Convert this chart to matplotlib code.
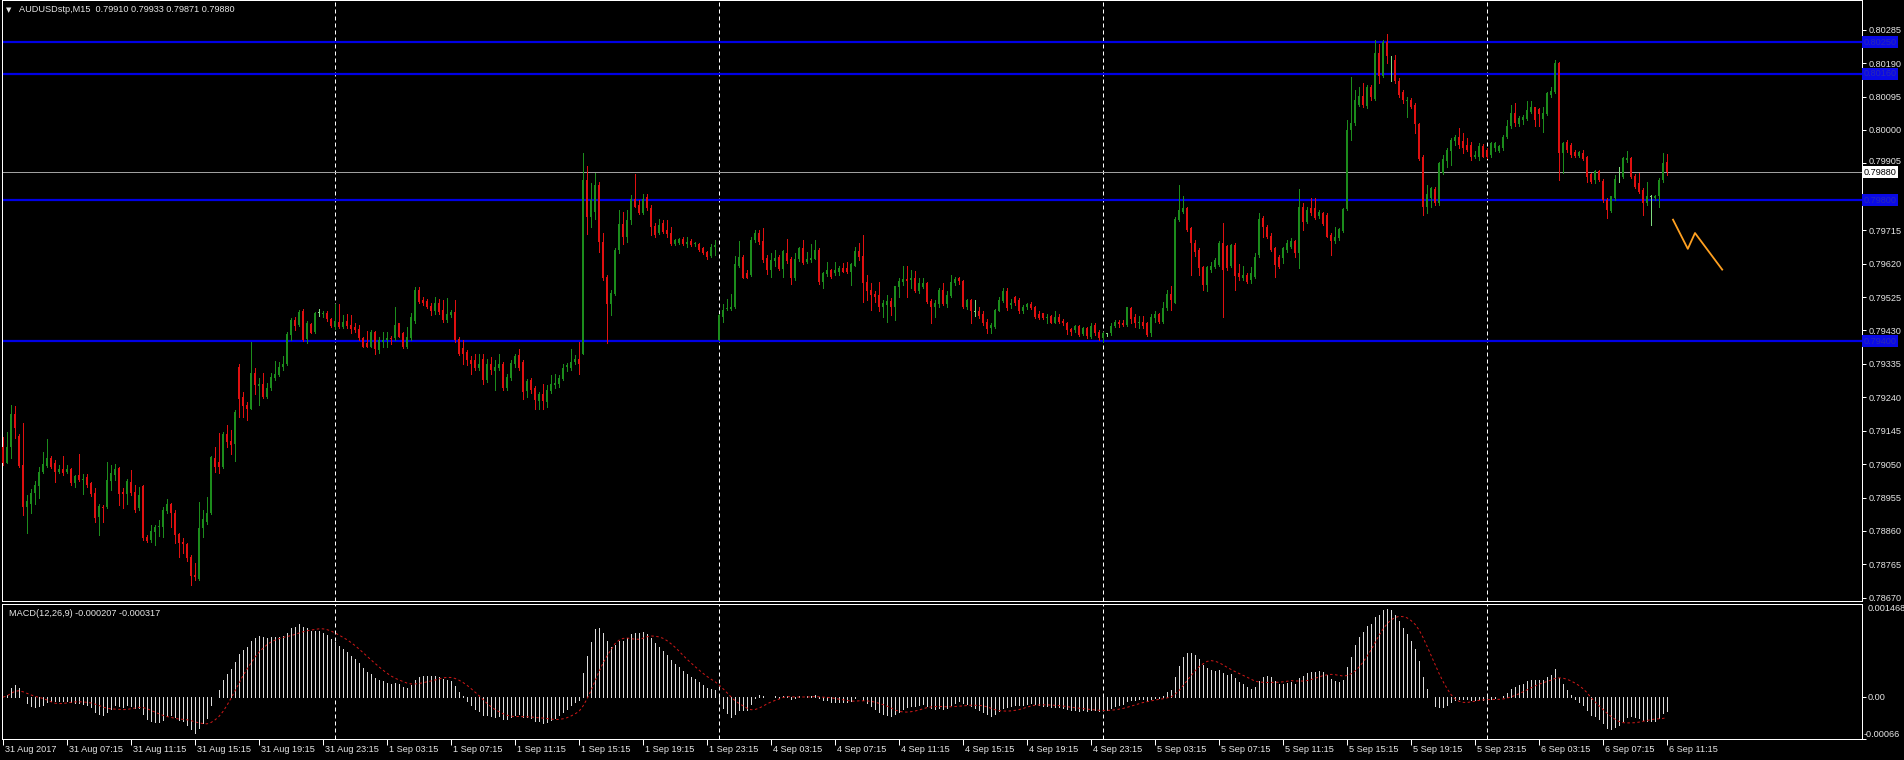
# ============================================================
# AUDUSDstp M15 candlestick chart with MACD(12,26,9) subwindow
# MT4 style: black background, green/red candles, blue levels
# ============================================================

import numpy as np
import pandas as pd
import matplotlib
matplotlib.use("Agg")
import matplotlib.pyplot as plt
import matplotlib.transforms as mtransforms

# ============================================================
# Data: M15 bars from 31 Aug 03:15 to 6 Sep 11:15 (prices in points, 1e-5)
# ============================================================
open_pts = [
    79099, 79054, 79098, 79192, 79130, 79047, 78927, 78938, 78969, 78988,
    79028, 79045, 79068, 79052, 79028, 79035, 79027, 79036, 78995, 79019,
    79005, 79014, 78995, 78967, 78900, 78929, 78927, 79003, 79019, 79038,
    78971, 78965, 78998, 78971, 78924, 78988, 78844, 78834, 78858, 78870,
    78872, 78917, 78938, 78912, 78850, 78829, 78823, 78787, 78734, 78722,
    78867, 78886, 78910, 79066, 79057, 79043, 79137, 79117, 79106, 79327,
    79240, 79218, 79208, 79308, 79272, 79277, 79242, 79265, 79294, 79303,
    79325, 79335, 79417, 79460, 79445, 79486, 79405, 79447, 79426, 79479,
    79477, 79481, 79462, 79441, 79455, 79439, 79458, 79445, 79441, 79433,
    79408, 79395, 79384, 79427, 79374, 79398, 79403, 79408, 79408, 79450,
    79422, 79382, 79408, 79458, 79546, 79516, 79514, 79500, 79486, 79507,
    79488, 79459, 79473, 79483, 79407, 79380, 79369, 79345, 79345, 79322,
    79350, 79288, 79336, 79315, 79322, 79336, 79265, 79296, 79334, 79360,
    79341, 79258, 79288, 79265, 79230, 79249, 79227, 79258, 79274, 79277,
    79293, 79326, 79324, 79341, 79350, 79364, 79857, 79753, 79766, 79843,
    79682, 79582, 79505, 79535, 79658, 79732, 79696, 79743, 79805, 79786,
    79764, 79808, 79779, 79726, 79706, 79736, 79717, 79706, 79677, 79680,
    79691, 79675, 79685, 79675, 79677, 79663, 79653, 79641, 79666, 79404,
    79469, 79490, 79490, 79497, 79613, 79639, 79592, 79587, 79687, 79706,
    79685, 79637, 79601, 79628, 79639, 79606, 79651, 79632, 79580, 79632,
    79663, 79625, 79630, 79634, 79658, 79568, 79590, 79601, 79593, 79597,
    79607, 79607, 79597, 79614, 79657, 79642, 79569, 79545, 79534, 79531,
    79498, 79503, 79515, 79498, 79553, 79569, 79576, 79574, 79578, 79541,
    79553, 79566, 79515, 79496, 79505, 79545, 79505, 79528, 79566, 79578,
    79572, 79496, 79517, 79483, 79486, 79477, 79455, 79436, 79439, 79486,
    79515, 79541, 79503, 79524, 79517, 79484, 79496, 79505, 79498, 79477,
    79479, 79465, 79471, 79452, 79469, 79458, 79452, 79433, 79430, 79443,
    79420, 79436, 79411, 79446, 79427, 79408, 79421, 79422, 79443, 79455,
    79452, 79446, 79493, 79468, 79451, 79455, 79450, 79422, 79465, 79477,
    79455, 79493, 79534, 79509, 79744, 79768, 79778, 79721, 79680, 79659,
    79610, 79560, 79602, 79610, 79616, 79678, 79669, 79612, 79673, 79593,
    79578, 79588, 79574, 79583, 79645, 79749, 79725, 79699, 79664, 79638,
    79635, 79659, 79668, 79683, 79649, 79782, 79739, 79777, 79777, 79754,
    79765, 79758, 79702, 79683, 79692, 79714, 79775, 80000, 80019, 80071,
    80097, 80068, 80123, 80087, 80220, 80154, 80249, 80192, 80199, 80140,
    80109, 80081, 80085, 80071, 80017, 79924, 79780, 79806, 79831, 79792,
    79877, 79913, 79941, 79970, 79981, 79970, 79958, 79958, 79922, 79922,
    79955, 79943, 79929, 79948, 79939, 79948, 79979, 80010, 80049, 80017,
    80027, 80030, 80052, 80065, 80059, 80030, 80046, 80100, 80109, 80190,
    79934, 79967, 79958, 79936, 79926, 79934, 79922, 79875, 79858, 79882,
    79856, 79801, 79771, 79806, 79865, 79867, 79915, 79920, 79869, 79850,
    79830, 79792, 79810, 79806, 79811, 79858, 79910,
]
high_pts = [
    79128, 79142, 79218, 79215, 79137, 79166, 78962, 78978, 79003, 79043,
    79085, 79120, 79073, 79062, 79047, 79073, 79047, 79038, 79019, 79078,
    79021, 79021, 79000, 78981, 78938, 78934, 79057, 79047, 79050, 79043,
    78981, 79009, 79033, 78990, 78986, 78990, 78848, 78877, 78877, 78891,
    78929, 78950, 78940, 78919, 78855, 78839, 78826, 78791, 78768, 78943,
    78919, 78957, 79073, 79099, 79139, 79142, 79161, 79147, 79204, 79335,
    79256, 79227, 79398, 79322, 79294, 79308, 79280, 79310, 79344, 79341,
    79357, 79427, 79464, 79469, 79488, 79490, 79458, 79450, 79483, 79490,
    79486, 79486, 79464, 79505, 79505, 79474, 79477, 79474, 79450, 79445,
    79412, 79429, 79431, 79429, 79412, 79427, 79427, 79414, 79498, 79452,
    79427, 79441, 79479, 79554, 79554, 79526, 79518, 79507, 79525, 79518,
    79516, 79521, 79488, 79516, 79412, 79404, 79374, 79357, 79364, 79364,
    79364, 79350, 79355, 79345, 79364, 79341, 79307, 79345, 79364, 79376,
    79345, 79293, 79296, 79271, 79255, 79277, 79274, 79303, 79307, 79303,
    79336, 79338, 79376, 79360, 79397, 79935, 79897, 79848, 79878, 79852,
    79706, 79587, 79544, 79663, 79772, 79767, 79772, 79815, 79876, 79800,
    79819, 79819, 79786, 79736, 79748, 79743, 79745, 79723, 79691, 79694,
    79696, 79696, 79689, 79682, 79679, 79666, 79656, 79675, 79687, 79478,
    79506, 79518, 79535, 79641, 79685, 79644, 79601, 79696, 79715, 79717,
    79720, 79644, 79649, 79658, 79644, 79660, 79691, 79639, 79649, 79668,
    79687, 79653, 79675, 79687, 79663, 79597, 79625, 79606, 79626, 79614,
    79621, 79626, 79621, 79667, 79678, 79702, 79588, 79564, 79541, 79569,
    79517, 79531, 79522, 79557, 79578, 79612, 79614, 79602, 79600, 79578,
    79578, 79569, 79519, 79517, 79550, 79566, 79541, 79588, 79583, 79581,
    79574, 79519, 79519, 79517, 79498, 79484, 79462, 79450, 79490, 79524,
    79550, 79550, 79519, 79528, 79522, 79503, 79507, 79512, 79500, 79484,
    79481, 79477, 79474, 79484, 79477, 79462, 79455, 79436, 79446, 79446,
    79439, 79441, 79450, 79450, 79432, 79427, 79424, 79452, 79460, 79460,
    79460, 79498, 79498, 79477, 79471, 79471, 79455, 79477, 79484, 79481,
    79512, 79545, 79557, 79752, 79844, 79811, 79782, 79725, 79687, 79664,
    79614, 79614, 79626, 79635, 79683, 79735, 79673, 79676, 79678, 79619,
    79612, 79593, 79611, 79649, 79763, 79756, 79730, 79706, 79668, 79645,
    79668, 79687, 79692, 79687, 79831, 79792, 79782, 79806, 79806, 79773,
    79768, 79763, 79706, 79725, 79721, 79777, 80029, 80152, 80114, 80123,
    80133, 80128, 80128, 80256, 80245, 80256, 80273, 80209, 80213, 80147,
    80114, 80095, 80090, 80076, 80021, 79929, 79844, 79839, 79839, 79910,
    79929, 79948, 79976, 79986, 80005, 79991, 79976, 79967, 79939, 79962,
    79960, 79948, 79967, 79967, 79958, 79986, 80029, 80071, 80076, 80040,
    80043, 80081, 80081, 80065, 80062, 80065, 80109, 80123, 80199, 80192,
    79967, 79972, 79964, 79943, 79939, 79943, 79926, 79879, 79885, 79885,
    79860, 79806, 79812, 79872, 79896, 79924, 79939, 79924, 79875, 79879,
    79834, 79853, 79815, 79815, 79863, 79934, 79933,
]
low_pts = [
    79047, 79052, 79066, 79123, 79043, 78905, 78855, 78912, 78938, 78953,
    79024, 79043, 79038, 79000, 79024, 79019, 79024, 78992, 78986, 79003,
    78965, 78986, 78960, 78886, 78848, 78886, 78924, 78976, 79005, 78934,
    78924, 78938, 78962, 78915, 78919, 78834, 78829, 78829, 78820, 78845,
    78844, 78910, 78872, 78825, 78787, 78796, 78775, 78706, 78720, 78720,
    78844, 78881, 78908, 79028, 79025, 79038, 79099, 79078, 79060, 79185,
    79185, 79175, 79206, 79249, 79218, 79237, 79237, 79261, 79289, 79300,
    79318, 79332, 79403, 79431, 79443, 79401, 79393, 79422, 79422, 79471,
    79469, 79458, 79439, 79433, 79436, 79436, 79436, 79424, 79427, 79403,
    79382, 79382, 79382, 79363, 79365, 79382, 79382, 79391, 79403, 79410,
    79379, 79379, 79403, 79450, 79507, 79502, 79495, 79473, 79478, 79478,
    79454, 79454, 79469, 79397, 79359, 79334, 79331, 79307, 79317, 79317,
    79279, 79284, 79307, 79260, 79317, 79260, 79260, 79288, 79326, 79317,
    79236, 79241, 79251, 79208, 79208, 79208, 79213, 79251, 79265, 79270,
    79288, 79315, 79317, 79334, 79307, 79364, 79704, 79725, 79748, 79653,
    79573, 79395, 79473, 79530, 79649, 79677, 79682, 79734, 79781, 79761,
    79761, 79772, 79701, 79696, 79704, 79706, 79696, 79672, 79672, 79677,
    79672, 79668, 79670, 79670, 79656, 79647, 79632, 79639, 79644, 79402,
    79454, 79488, 79488, 79495, 79611, 79578, 79578, 79584, 79682, 79677,
    79625, 79590, 79582, 79613, 79601, 79582, 79622, 79563, 79573, 79628,
    79618, 79622, 79625, 79632, 79563, 79552, 79584, 79578, 79588, 79588,
    79595, 79593, 79560, 79612, 79631, 79512, 79517, 79488, 79512, 79484,
    79469, 79455, 79474, 79460, 79526, 79560, 79526, 79550, 79538, 79536,
    79550, 79509, 79450, 79469, 79498, 79503, 79498, 79524, 79560, 79562,
    79493, 79490, 79452, 79471, 79465, 79446, 79422, 79422, 79436, 79484,
    79512, 79488, 79493, 79503, 79481, 79481, 79492, 79490, 79465, 79462,
    79462, 79450, 79450, 79450, 79450, 79446, 79420, 79417, 79427, 79413,
    79417, 79408, 79408, 79417, 79403, 79398, 79414, 79417, 79439, 79441,
    79443, 79443, 79450, 79441, 79436, 79436, 79413, 79413, 79455, 79450,
    79450, 79488, 79488, 79507, 79740, 79763, 79714, 79588, 79642, 79588,
    79545, 79543, 79597, 79607, 79614, 79469, 79602, 79610, 79545, 79574,
    79574, 79564, 79566, 79578, 79640, 79697, 79692, 79657, 79583, 79607,
    79621, 79654, 79664, 79640, 79607, 79716, 79735, 79758, 79746, 79749,
    79730, 79695, 79645, 79680, 79687, 79711, 79773, 79972, 80014, 80067,
    80065, 80062, 80085, 80085, 80133, 80152, 80190, 80138, 80133, 80093,
    80076, 80038, 80062, 79991, 79915, 79758, 79763, 79782, 79787, 79787,
    79875, 79896, 79901, 79958, 79948, 79934, 79939, 79915, 79920, 79915,
    79922, 79920, 79924, 79941, 79936, 79943, 79976, 80005, 80010, 80012,
    80017, 80027, 80048, 80012, 80010, 79995, 80043, 80095, 80106, 79858,
    79877, 79936, 79924, 79924, 79922, 79915, 79853, 79850, 79850, 79856,
    79796, 79749, 79768, 79801, 79853, 79863, 79910, 79863, 79834, 79820,
    79758, 79787, 79730, 79801, 79782, 79853, 79871,
]
close_pts = [
    79052, 79099, 79192, 79152, 79044, 78929, 78946, 78969, 78990, 79028,
    79050, 79068, 79043, 79028, 79036, 79026, 79037, 78995, 79016, 79005,
    79009, 78990, 78965, 78898, 78931, 78924, 79005, 79024, 79036, 78965,
    78965, 79003, 78967, 78919, 78962, 78841, 78832, 78861, 78872, 78874,
    78919, 78938, 78910, 78848, 78826, 78823, 78782, 78732, 78728, 78867,
    78893, 78910, 79069, 79043, 79041, 79137, 79114, 79104, 79199, 79234,
    79215, 79208, 79308, 79275, 79278, 79240, 79267, 79297, 79306, 79327,
    79335, 79420, 79460, 79443, 79483, 79403, 79450, 79424, 79479, 79479,
    79480, 79462, 79443, 79458, 79439, 79455, 79443, 79433, 79431, 79408,
    79384, 79384, 79427, 79376, 79403, 79403, 79408, 79405, 79445, 79412,
    79382, 79412, 79467, 79544, 79511, 79508, 79497, 79486, 79507, 79483,
    79459, 79476, 79483, 79402, 79364, 79364, 79345, 79336, 79322, 79336,
    79288, 79336, 79317, 79326, 79336, 79265, 79298, 79338, 79357, 79322,
    79255, 79287, 79260, 79232, 79249, 79230, 79262, 79277, 79281, 79296,
    79324, 79331, 79341, 79350, 79336, 79857, 79753, 79800, 79843, 79682,
    79578, 79505, 79537, 79658, 79732, 79696, 79745, 79805, 79781, 79764,
    79805, 79777, 79725, 79701, 79729, 79710, 79704, 79675, 79688, 79690,
    79675, 79682, 79672, 79679, 79658, 79649, 79639, 79666, 79672, 79473,
    79489, 79492, 79497, 79618, 79639, 79580, 79580, 79688, 79707, 79682,
    79630, 79601, 79630, 79637, 79606, 79656, 79628, 79580, 79632, 79663,
    79622, 79634, 79637, 79658, 79568, 79592, 79603, 79582, 79602, 79607,
    79597, 79597, 79619, 79657, 79640, 79564, 79543, 79531, 79526, 79498,
    79507, 79515, 79498, 79555, 79572, 79576, 79572, 79578, 79541, 79564,
    79564, 79512, 79496, 79509, 79545, 79505, 79531, 79569, 79576, 79572,
    79496, 79517, 79484, 79483, 79471, 79450, 79433, 79446, 79488, 79517,
    79541, 79493, 79509, 79507, 79484, 79498, 79505, 79493, 79469, 79465,
    79465, 79469, 79452, 79469, 79455, 79450, 79430, 79427, 79443, 79417,
    79436, 79413, 79443, 79422, 79408, 79422, 79421, 79443, 79455, 79449,
    79446, 79496, 79462, 79451, 79455, 79443, 79417, 79469, 79477, 79455,
    79493, 79534, 79517, 79746, 79773, 79778, 79716, 79678, 79654, 79607,
    79560, 79610, 79614, 79631, 79678, 79602, 79607, 79673, 79585, 79581,
    79588, 79569, 79592, 79640, 79746, 79725, 79697, 79659, 79616, 79611,
    79664, 79680, 79685, 79649, 79782, 79739, 79773, 79765, 79749, 79768,
    79733, 79697, 79683, 79697, 79718, 79775, 80000, 80019, 80085, 80097,
    80071, 80122, 80093, 80220, 80154, 80249, 80209, 80192, 80138, 80100,
    80084, 80085, 80065, 80017, 79917, 79782, 79818, 79834, 79792, 79905,
    79917, 79943, 79972, 79981, 79958, 79948, 79943, 79922, 79929, 79953,
    79924, 79924, 79962, 79962, 79953, 79981, 80012, 80049, 80019, 80033,
    80036, 80057, 80065, 80029, 80046, 80049, 80104, 80112, 80190, 79934,
    79964, 79943, 79929, 79926, 79936, 79917, 79867, 79853, 79882, 79858,
    79801, 79773, 79811, 79860, 79865, 79920, 79920, 79867, 79839, 79825,
    79792, 79811, 79810, 79812, 79858, 79907, 79880,
]

# horizontal levels drawn on the chart
blue_levels = [0.80250, 0.80160, 0.79800, 0.79400]
bid_level = 0.79880

# period separators (bar index of each day start) and time labels every 16 bars
day_start_bars = [83, 179, 275, 371]
time_labels = [
    "31 Aug 2017", "31 Aug 07:15", "31 Aug 11:15", "31 Aug 15:15", "31 Aug 19:15",
    "31 Aug 23:15", "1 Sep 03:15", "1 Sep 07:15", "1 Sep 11:15", "1 Sep 15:15",
    "1 Sep 19:15", "1 Sep 23:15", "4 Sep 03:15", "4 Sep 07:15", "4 Sep 11:15",
    "4 Sep 15:15", "4 Sep 19:15", "4 Sep 23:15", "5 Sep 03:15", "5 Sep 07:15",
    "5 Sep 11:15", "5 Sep 15:15", "5 Sep 19:15", "5 Sep 23:15", "6 Sep 03:15",
    "6 Sep 07:15", "6 Sep 11:15",
]

# orange zigzag forecast drawn to the right of the last bar
zz_bar = [417.5, 421.2, 423.0, 429.8]
zz_price = [0.79745, 0.79662, 0.79707, 0.79603]

# ============================================================
# Style
# ============================================================
W, H = 1904, 760
plt.rcParams['font.family'] = ['Liberation Sans', 'DejaVu Sans']
FS = 6.6
TXT = '#e6e6e6'
GREEN = '#1c8c1c'
RED = '#e01010'
DOJI = '#7fdc7f'
PX = 0.72  # one pixel in points at dpi 100

o = np.array(open_pts) / 1e5
h = np.array(high_pts) / 1e5
l = np.array(low_pts) / 1e5
c = np.array(close_pts) / 1e5
assert len(o) == len(h) == len(l) == len(c) == 417
x = np.arange(len(c))

fig = plt.figure(figsize=(W / 100, H / 100), dpi=100, facecolor='black')


def px_axes(left, top, right, bottom):
    a = fig.add_axes([left / W, 1 - bottom / H, (right - left) / W, (bottom - top) / H])
    a.set_facecolor('black')
    for s in a.spines.values():
        s.set_color('white')
        s.set_linewidth(PX)
    a.set_xlim(-0.25, 464.75)
    return a


ax = px_axes(2, 0, 1862, 601)
axm = px_axes(2, 604, 1862, 739)

# ============================================================
# Price panel
# ============================================================
ax.set_ylim(0.786608, 0.803695)
cols = np.where(c > o, GREEN, np.where(c < o, RED, DOJI))
ax.vlines(x, l, h, colors=cols, lw=PX, antialiased=False, zorder=3)
body_bot = np.minimum(o, c)
body_h = np.maximum(np.abs(c - o), 0.000025)
ax.bar(x, body_h, width=0.72, bottom=body_bot, color=cols, linewidth=0,
       antialiased=False, zorder=4)

for lv in blue_levels:
    ax.axhline(lv, color='#0000e6', lw=1.6, zorder=2)
    ax.text(1.0009, lv, f"{lv:.5f}", transform=ax.get_yaxis_transform(),
            ha='left', va='center', fontsize=FS, color='#2a2ab4', clip_on=False,
            bbox=dict(boxstyle='square,pad=0.15', fc='#0a0ae6', ec='none'))
ax.axhline(bid_level, color='#a0a0a0', lw=PX, zorder=2)
ax.text(1.0009, bid_level, f"{bid_level:.5f}", transform=ax.get_yaxis_transform(),
        ha='left', va='center', fontsize=FS, color='black', clip_on=False,
        bbox=dict(boxstyle='square,pad=0.15', fc='white', ec='none'))

ax.plot(zz_bar, zz_price, color='#ffa020', lw=1.3, zorder=5)

price_ticks = np.round(np.arange(0.78670, 0.80286, 0.00095), 5)
# the 0.79810 label sits under the 0.79800 level box, so it is not shown
price_labels = ["" if abs(v - 0.79810) < 1e-6 else f"{v:.5f}" for v in price_ticks]
ax.yaxis.tick_right()
ax.set_yticks(price_ticks)
ax.set_yticklabels(price_labels)
ax.tick_params(axis='y', colors='white', labelcolor=TXT, length=3, width=PX,
               pad=1.5, labelsize=FS)
# nudge the tick label sitting right above the bid box
nudge = mtransforms.ScaledTranslation(0, 2.5 / 100, fig.dpi_scale_trans)
for v, lab in zip(price_ticks, ax.get_yticklabels()):
    if abs(v - 0.79905) < 1e-6:
        lab.set_transform(lab.get_transform() + nudge)
ax.set_xticks([])

for b in day_start_bars:
    ax.axvline(b, color='white', lw=PX, ls=(0, (4, 3)), zorder=1)
    axm.axvline(b, color='white', lw=PX, ls=(0, (4, 3)), zorder=1)

fig.text(9 / W, 1 - 10 / H, "\u25BC", color=TXT, fontsize=5,
         family=['DejaVu Sans'], ha='center', va='center')
fig.text(19 / W, 1 - 10 / H,
         "AUDUSDstp,M15  0.79910 0.79933 0.79871 0.79880",
         color=TXT, fontsize=FS, ha='left', va='center')

# ============================================================
# MACD(12,26,9) panel: EMA12 - EMA26 of close, SMA9 signal
# ============================================================
close_s = pd.Series(c)
macd = close_s.ewm(span=12, adjust=False).mean() - close_s.ewm(span=26, adjust=False).mean()
signal = macd.rolling(9, min_periods=1).mean()

axm.set_ylim(-0.00066, 0.001468)
axm.vlines(x, 0, macd.values, colors='#dcdcdc', lw=PX, antialiased=False, zorder=3)
axm.plot(x, signal.values, color='#d01818', lw=PX, ls=(0, (2.5, 2.5)), zorder=4)

axm.yaxis.tick_right()
axm.set_yticks([0.0, -0.00066])
axm.set_yticklabels(["", ""])
axm.tick_params(axis='y', colors='white', length=3, width=PX)
axm.text(1.003, 0.0, "0.00", transform=axm.get_yaxis_transform(),
         ha='left', va='center', fontsize=FS, color=TXT)
axm.text(1.003, 0.001468, "0.001468", transform=axm.get_yaxis_transform(),
         ha='left', va='top', fontsize=FS, color=TXT)
axm.text(1.001, -0.00066, "-0.00066", transform=axm.get_yaxis_transform(),
         ha='left', va='bottom', fontsize=FS, color=TXT)
axm.text(7 / 1860, 1 - 9 / 135, "MACD(12,26,9) -0.000207 -0.000317",
         transform=axm.transAxes, ha='left', va='center', fontsize=FS, color=TXT)

tick_bars = np.arange(0, len(c), 16)
axm.set_xticks(tick_bars)
axm.set_xticklabels([""] * len(tick_bars))
axm.tick_params(axis='x', colors='white', length=4, width=PX, direction='out')
xt = axm.get_xaxis_transform()
for b, lab in zip(tick_bars, time_labels):
    axm.text(b + 0.4, -0.075, lab, transform=xt, ha='left', va='center',
             fontsize=FS, color=TXT, clip_on=False)

fig.savefig("out.png", dpi=100, facecolor='black')
